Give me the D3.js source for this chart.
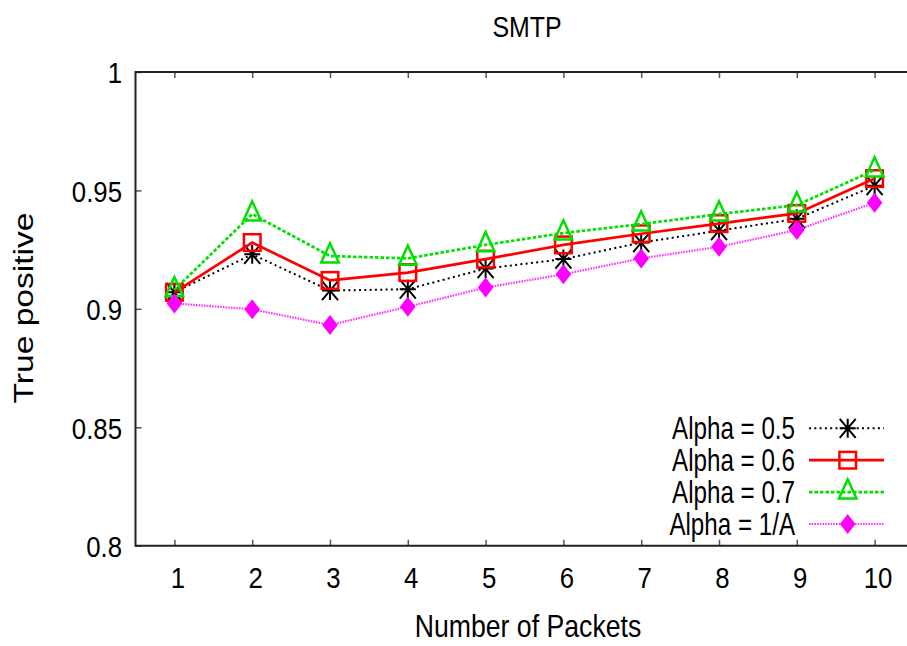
<!DOCTYPE html>
<html>
<head>
<meta charset="utf-8">
<script src="https://cdn.jsdelivr.net/npm/d3@7"></script>
<style>
  html, body { margin: 0; padding: 0; background: #fff; }
  svg { display: block; }
  text { font-family: "Liberation Sans", Arial, Helvetica, sans-serif; fill: #000; }
</style>
</head>
<body>
<svg id="chart" width="907" height="646"></svg>
<script>
// Number of packets on the x axis
const packets = [1, 2, 3, 4, 5, 6, 7, 8, 9, 10];

// True-positive rate for each alpha setting
const alpha05 = [0.907, 0.923, 0.9077, 0.9083, 0.917, 0.921, 0.928, 0.933, 0.938, 0.952];
const alpha06 = [0.907, 0.928, 0.912, 0.9153, 0.921, 0.927, 0.9317, 0.936, 0.9403, 0.955];
const alpha07 = [0.908, 0.940, 0.9223, 0.9213, 0.927, 0.932, 0.9358, 0.940, 0.9438, 0.9586];
const alpha1A = [0.9023, 0.8998, 0.8932, 0.9009, 0.909, 0.9146, 0.9213, 0.9262, 0.9333, 0.9448];

const seriesNames = ["Alpha = 0.5", "Alpha = 0.6", "Alpha = 0.7", "Alpha = 1/A"];
const yTickValues = [0.8, 0.85, 0.9, 0.95, 1];
const yTickLabels = ["0.8", "0.85", "0.9", "0.95", "1"];

const series = [
  { name: seriesNames[0], values: alpha05, color: "#000000", width: 2,   dash: "2,3.3", marker: "star" },
  { name: seriesNames[1], values: alpha06, color: "#ff0000", width: 2.7, dash: null,    marker: "square" },
  { name: seriesNames[2], values: alpha07, color: "#00e000", width: 2.7, dash: "3.5,2", marker: "triangle" },
  { name: seriesNames[3], values: alpha1A, color: "#ff33ff", width: 2.2, dash: "1.6,1.1", marker: "diamond" }
];

const svg = d3.select("#chart");
const plotLeft = 135.5, plotRight = 913.5, plotTop = 72, plotBottom = 545.7;

const x = d3.scaleLinear().domain([0.5, 10.5]).range([plotLeft, plotRight]);
const y = d3.scaleLinear().domain([0.8, 1]).range([plotBottom, plotTop]);

// Compress glyphs horizontally around their anchor point
function squeeze(sel, sx) {
  sel.each(function () {
    const t = d3.select(this);
    const tx = +t.attr("x") || 0;
    const ty = +t.attr("y") || 0;
    t.attr("x", 0).attr("y", 0)
     .attr("transform", `translate(${tx},${ty}) scale(${sx},1)`);
  });
}

// Axes with inward ticks
const xAxis = d3.axisBottom(x).tickValues(packets).tickFormat(d3.format("d"))
  .tickSizeInner(-6).tickSizeOuter(0).tickPadding(21);
const gx = svg.append("g").attr("transform", `translate(0,${plotBottom})`).call(xAxis);
gx.select(".domain").remove();
gx.selectAll(".tick line").attr("stroke", "#555").attr("stroke-width", 1.5);
gx.selectAll(".tick text").attr("font-size", 30).attr("font-family", null)
  .attr("x", 3).call(squeeze, 0.86);

const xTop = d3.axisTop(x).tickValues(packets).tickFormat("").tickSizeInner(-6).tickSizeOuter(0);
const gxt = svg.append("g").attr("transform", `translate(0,${plotTop})`).call(xTop);
gxt.select(".domain").remove();
gxt.selectAll(".tick line").attr("stroke", "#555").attr("stroke-width", 1.5);

const yAxis = d3.axisLeft(y).tickValues(yTickValues)
  .tickFormat((d, i) => yTickLabels[i])
  .tickSizeInner(-6).tickSizeOuter(0).tickPadding(13.5);
const gy = svg.append("g").attr("transform", `translate(${plotLeft},0)`).call(yAxis);
gy.select(".domain").remove();
gy.selectAll(".tick line").attr("stroke", "#555").attr("stroke-width", 1.5);
gy.selectAll(".tick text").attr("font-size", 30).attr("font-family", null)
  .attr("dy", "0.36em").call(squeeze, 0.86);

// Plot frame
svg.append("path")
  .attr("d", `M${plotRight},${plotTop}H${plotLeft}V${plotBottom}H${plotRight}`)
  .attr("fill", "none").attr("stroke", "#222").attr("stroke-width", 2);

// Marker shapes
function drawMarker(g, type, cx, cy, color) {
  if (type === "star") {
    const w = 8, h = 9.5;
    g.append("path")
      .attr("d", `M${cx - w},${cy - h}L${cx + w},${cy + h}M${cx - w},${cy + h}L${cx + w},${cy - h}` +
                 `M${cx},${cy - h}V${cy + h}M${cx - w},${cy}H${cx + w}`)
      .attr("stroke", color).attr("stroke-width", 2).attr("fill", "none");
  } else if (type === "square") {
    const s = 8.3;
    g.append("rect").attr("x", cx - s).attr("y", cy - s).attr("width", 2 * s).attr("height", 2 * s)
      .attr("fill", "none").attr("stroke", color).attr("stroke-width", 2.5);
  } else if (type === "triangle") {
    const w = 8.8, up = 12.8, down = 6.4;
    g.append("path").attr("d", `M${cx},${cy - up}L${cx + w},${cy + down}L${cx - w},${cy + down}Z`)
      .attr("fill", "none").attr("stroke", color).attr("stroke-width", 2.5);
  } else if (type === "diamond") {
    const w = 7.8, h = 10;
    g.append("path").attr("d", `M${cx},${cy - h}L${cx + w},${cy}L${cx},${cy + h}L${cx - w},${cy}Z`)
      .attr("fill", "#ff00ff").attr("stroke", "none");
  }
}

const line = d3.line().x((d, i) => x(packets[i])).y(d => y(d));

series.forEach(s => {
  const g = svg.append("g");
  g.append("path").datum(s.values)
    .attr("d", line).attr("fill", "none")
    .attr("stroke", s.color).attr("stroke-width", s.width)
    .attr("stroke-dasharray", s.dash);
  s.values.forEach((v, i) => drawMarker(g, s.marker, x(packets[i]), y(v), s.color));
});

// Legend
const legendY = d3.scaleLinear().domain([0, 1]).range([428.3, 460.2]);
series.forEach((s, i) => {
  const cy = legendY(i);
  const g = svg.append("g");
  g.append("text").attr("x", 795).attr("y", cy + 11).attr("text-anchor", "end")
    .attr("font-size", 31).text(s.name).call(squeeze, 0.78);
  g.append("line").attr("x1", 809).attr("x2", 884).attr("y1", cy).attr("y2", cy)
    .attr("stroke", s.color).attr("stroke-width", s.width).attr("stroke-dasharray", s.dash);
  drawMarker(g, s.marker, 847.7, cy, s.color);
});

// Titles
svg.append("text").attr("x", 527).attr("y", 37).attr("text-anchor", "middle")
  .attr("font-size", 29).text("SMTP").call(squeeze, 0.86);
svg.append("text").attr("x", 528).attr("y", 637).attr("text-anchor", "middle")
  .attr("font-size", 31).text("Number of Packets").call(squeeze, 0.86);
svg.append("text").attr("text-anchor", "middle").attr("font-size", 28)
  .attr("transform", `translate(33,308) rotate(-90) scale(1.2,1)`)
  .text("True positive");
</script>
</body>
</html>
